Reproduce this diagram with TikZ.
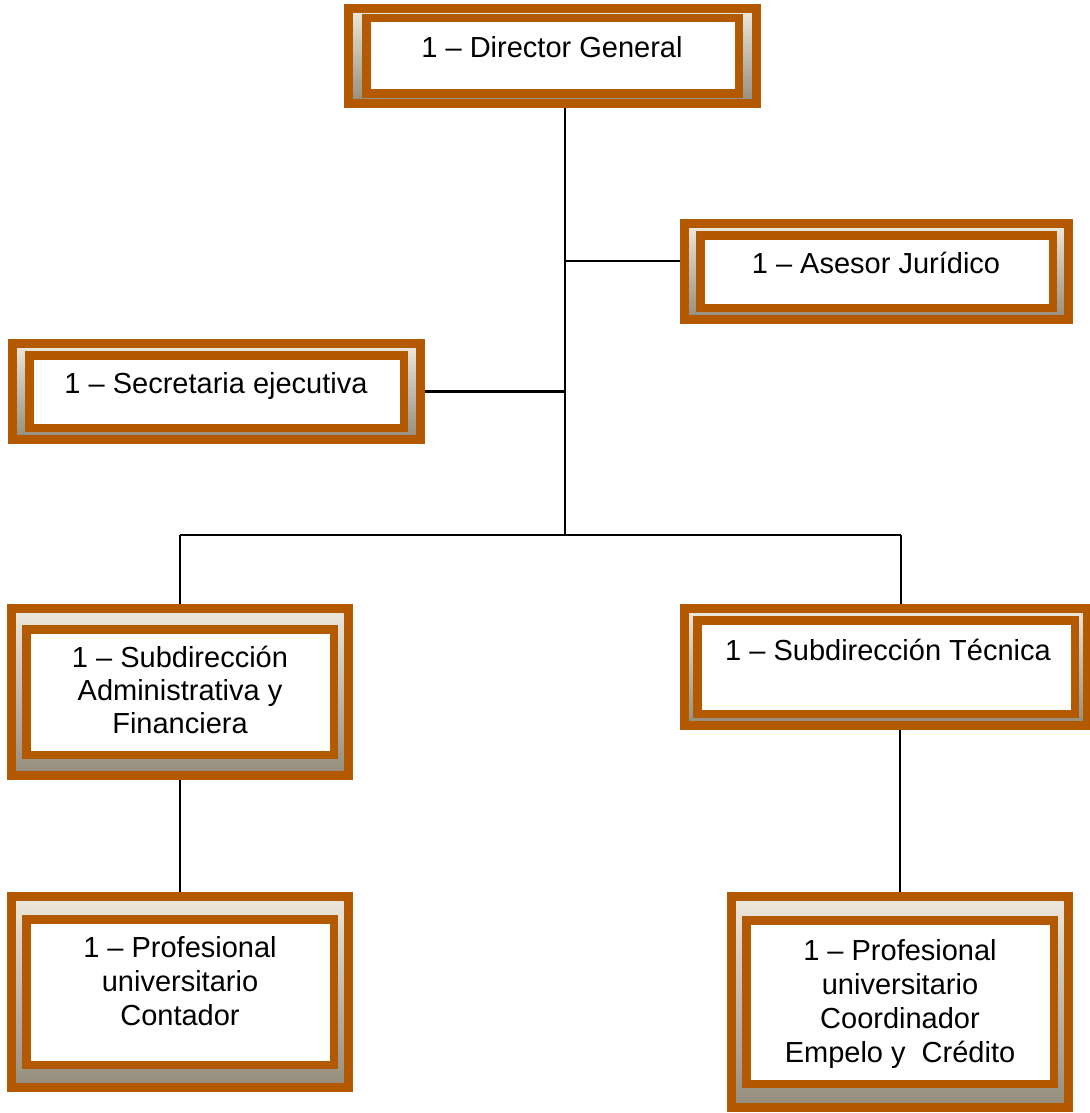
\documentclass[tikz,border=0pt]{standalone}
\usepackage{fontspec}
\setmainfont{Liberation Sans}
\usetikzlibrary{calc}

\definecolor{frame}{RGB}{179,89,0}
\definecolor{shadetop}{RGB}{238,233,221}
\definecolor{shadebot}{RGB}{148,140,124}

\tikzset{
  obox/.style={draw=frame, line width=9pt, top color=shadetop, bottom color=shadebot,
               inner sep=0pt, outer sep=4.5pt},
  ibox/.style={draw=frame, line width=8.5pt, fill=white},
  link/.style={draw=black, line width=2.6pt},
  lbl/.style={anchor=base, inner sep=0pt, font=\fontsize{29}{34}\selectfont},
}

% #1 name, #2 left, #3 top, #4 right, #5 bottom, #6 side gap, #7 top/bottom gap
\newcommand\orgbox[7]{%
  \node[obox, minimum width={(#4-#2-9)*1pt}, minimum height={(#5-#3-9)*1pt}]
    (#1) at ({(#2+#4)/2},{(#3+#5)/2}) {};
  \draw[ibox] ($(#1.north west)+(#6pt+4.25pt,-#7pt-4.25pt)$)
    rectangle ($(#1.south east)+(-#6pt-4.25pt,#7pt+4.25pt)$);
}

\begin{document}
\begin{tikzpicture}[x=1pt,y=-1pt]
  \useasboundingbox (0,0) rectangle (1089,1113);

  % boxes
  \orgbox{dir}{344}{4}{761}{108}{18}{10}
  \orgbox{ases}{680}{219}{1073}{324}{16}{12}
  \orgbox{sec}{8}{339}{425}{444}{17}{12}
  \orgbox{tec}{680}{604}{1092}{730}{13}{12}
  \orgbox{adm}{7}{604}{353}{780}{15}{21}
  \orgbox{cont}{7}{892}{353}{1092}{15}{23}
  \orgbox{coord}{727}{892}{1073}{1112}{15}{24}

  % labels
  \node[lbl] (dirt) at (552,58) {\parbox[t]{340pt}{\centering 1 – Director General}};
  \node[lbl] (asest) at (876,273) {\parbox[t]{340pt}{\centering 1 – Asesor Jurídico}};
  \node[lbl] (sect) at (216,393) {\parbox[t]{340pt}{\centering 1 – Secretaria ejecutiva}};
  \node[lbl] (tect) at (888,660) {\parbox[t]{340pt}{\centering 1 – Subdirección Técnica}};
  \node[lbl] (admt) at (180,667) {\parbox[t]{320pt}{\centering\baselineskip=33pt
    1 – Subdirección\\Administrativa y\\Financiera}};
  \node[lbl] (contt) at (180,957) {\parbox[t]{320pt}{\centering
    1 – Profesional\\universitario\\Contador}};
  \node[lbl] (coordt) at (900,960) {\parbox[t]{320pt}{\centering\baselineskip=34.3pt
    1 – Profesional\\universitario\\Coordinador\\Empelo y~ Crédito}};

  % connectors
  \coordinate (hub) at (565,535);
  \coordinate (ja) at (565,261);
  \coordinate (lj) at (180,535);
  \coordinate (rj) at (901,535);
  \draw[link] (dir.south -| hub) -- (hub);
  \draw[link] (ja) -- (ases.west |- ja);
  \draw[link] (sec.east) -- (sec.east -| hub);
  \draw[link] (lj) -- (rj);
  \draw[link] (lj) -- (adm.north);
  \draw[link] (rj) -- (tec.north -| rj);
  \draw[link] (adm.south) -- (cont.north);
  \draw[link] (tec.south -| coord.north) -- (coord.north);
\end{tikzpicture}
\end{document}
